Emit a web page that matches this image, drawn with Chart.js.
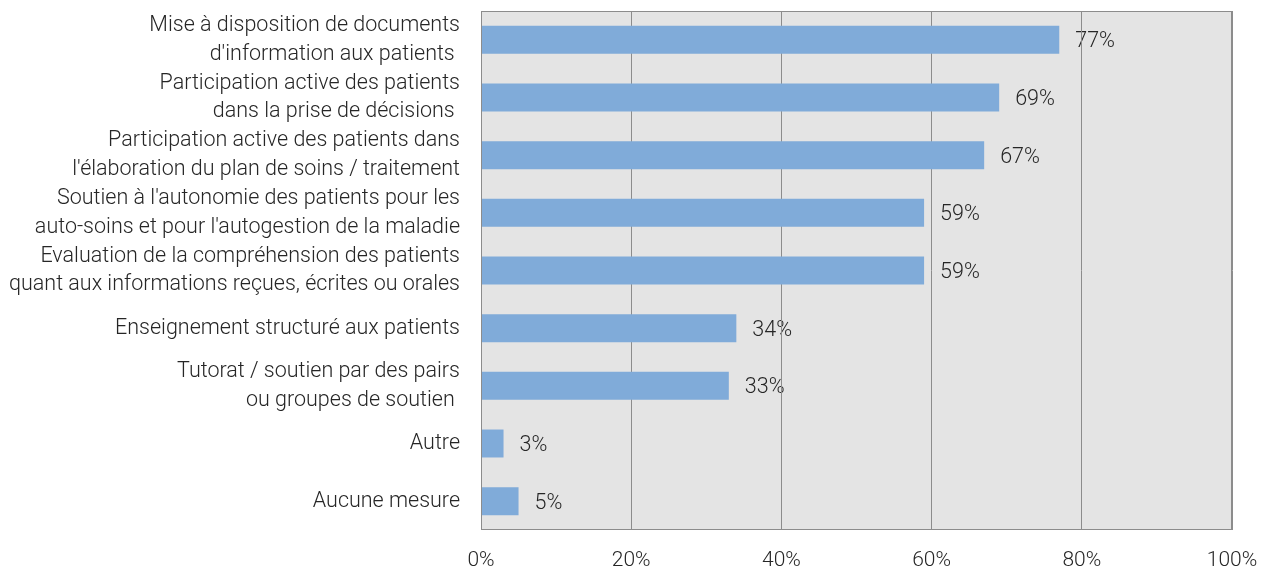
<!DOCTYPE html>
<html>
<head>
<meta charset="utf-8">
<script src="https://cdn.jsdelivr.net/npm/chart.js@4/dist/chart.umd.min.js"></script>
<style>
html,body{margin:0;padding:0;background:#fff;}
#wrap{position:relative;width:1261px;height:568px;}
</style>
</head>
<body>
<div id="wrap"><canvas id="c" width="1261" height="568"></canvas></div>
<script>
const categories = [
  ["Mise à disposition de documents", "d'information aux patients "],
  ["Participation active des patients", "dans la prise de décisions "],
  ["Participation active des patients dans", "l'élaboration du plan de soins / traitement"],
  ["Soutien à l'autonomie des patients pour les", "auto-soins et pour l'autogestion de la maladie"],
  ["Evaluation de la compréhension des patients", "quant aux informations reçues, écrites ou orales"],
  "Enseignement structuré aux patients",
  ["Tutorat / soutien par des pairs", "ou groupes de soutien "],
  "Autre",
  "Aucune mesure"
];
const values = [77, 69, 67, 59, 59, 34, 33, 3, 5];
const xTicks = [0, 20, 40, 60, 80, 100];

const FONT = "Roboto";
const TEXT = "#262626";

const bgPlugin = {
  id: 'bg',
  beforeDraw(chart) {
    const {ctx, chartArea: a} = chart;
    ctx.save();
    ctx.fillStyle = '#e4e4e4';
    ctx.fillRect(a.left, a.top, a.right - a.left, a.bottom - a.top);
    // value labels drawn under the grid lines, as in the reference
    const meta = chart.getDatasetMeta(0);
    ctx.font = '300 21.5px ' + FONT;
    ctx.fillStyle = TEXT;
    ctx.textAlign = 'left';
    ctx.textBaseline = 'middle';
    meta.data.forEach((bar, i) => {
      ctx.fillText(values[i] + '%', bar.x + 16, bar.y + 2);
    });
    ctx.restore();
  },
  afterDatasetsDraw(chart) {
    const {ctx, chartArea: a} = chart;
    ctx.save();
    ctx.strokeStyle = '#8c8c8c';
    ctx.lineWidth = 1;
    ctx.strokeRect(a.left + 0.5, a.top + 0.5, a.right - a.left - 1, a.bottom - a.top - 1);
    ctx.restore();
  }
};

new Chart(document.getElementById('c'), {
  type: 'bar',
  data: {
    labels: categories,
    datasets: [{
      data: values,
      backgroundColor: '#80abd9',
      borderWidth: 0,
      barPercentage: 0.485,
      categoryPercentage: 1.0
    }]
  },
  options: {
    indexAxis: 'y',
    responsive: false,
    animation: false,
    layout: { padding: { top: 11, right: 29, left: 0, bottom: 0 } },
    plugins: { legend: { display: false }, tooltip: { enabled: false } },
    scales: {
      x: {
        min: 0, max: 100,
        afterBuildTicks(scale) { scale.ticks = xTicks.map(v => ({ value: v })); },
        afterFit(scale) { scale.height = 38; scale.paddingLeft = 0; scale.paddingRight = 0; },
        grid: { color: '#8c8c8c', drawTicks: false, lineWidth: 1 },
        border: { display: false },
        ticks: {
          padding: 18,
          color: TEXT,
          font: { family: FONT, size: 21, weight: 300 },
          callback: v => v + '%',
          maxRotation: 0
        }
      },
      y: {
        afterFit(scale) { scale.width = 481; scale.paddingTop = 0; scale.paddingBottom = 0; },
        grid: { display: false, drawTicks: false },
        border: { display: false },
        ticks: {
          padding: 21,
          color: TEXT,
          font: { family: FONT, size: 21.5, weight: 300, lineHeight: 1.33 },
          autoSkip: false
        }
      }
    }
  },
  plugins: [bgPlugin]
});
</script>
</body>
</html>
